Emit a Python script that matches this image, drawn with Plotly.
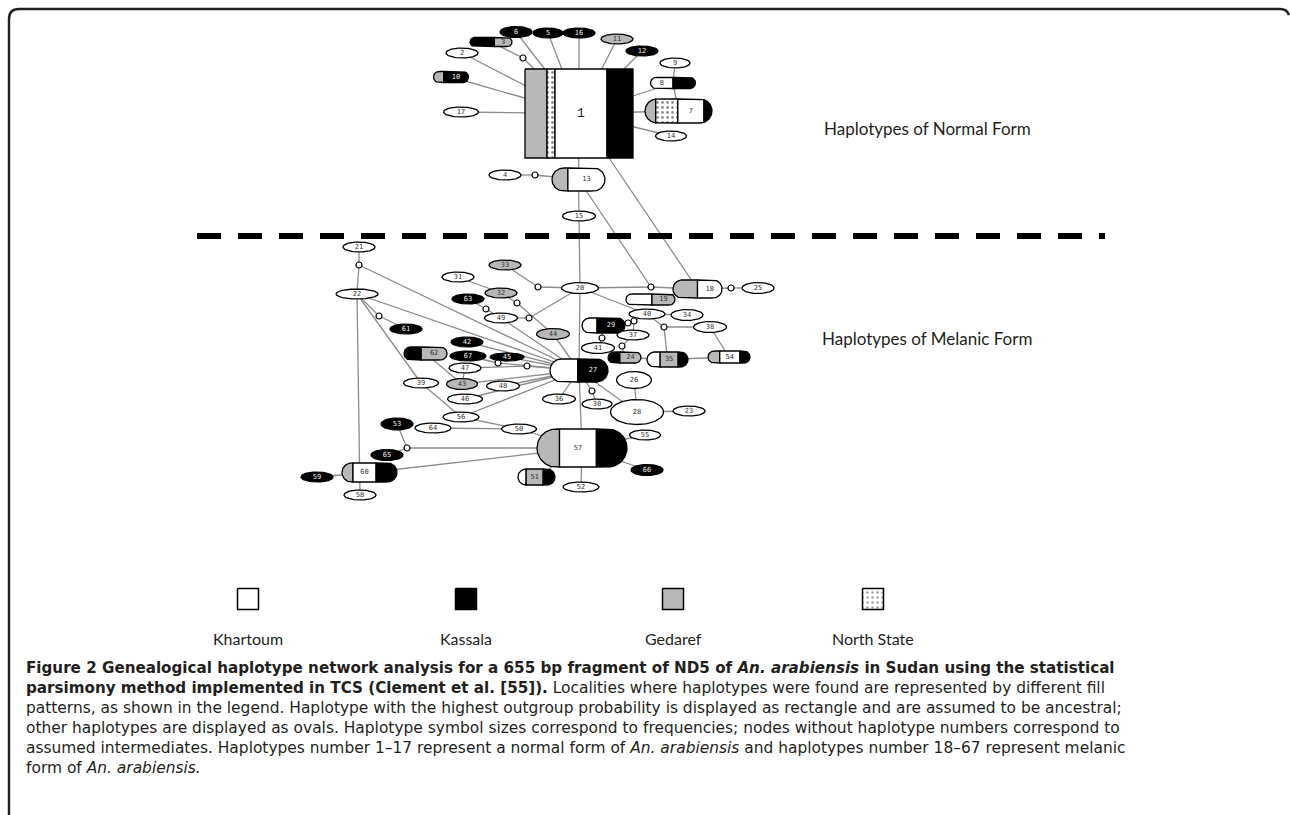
import numpy as np
import plotly.graph_objects as go

# ---------------- data ----------------
node_ids = ["1", "17", "10", "2", "3", "6", "5", "16", "11", "12", "9", "8", "7", "14", "13", "4", "15",
            "21", "22", "61", "31", "33", "32", "63", "49", "44", "42", "67", "45", "62", "47", "39", "43",
            "48", "46", "56", "64", "50", "53", "65", "60", "59", "58", "57", "55", "66", "51", "52", "36",
            "30", "26", "28", "23", "20", "18", "25", "19", "40", "34", "38", "29", "37", "41", "24", "35",
            "54", "27"]
# locality composition of each haplotype (W Khartoum, K Kassala, G Gedaref, D North State), percent
node_parts = ["G22 D8 W52 K26", "W", "G29 K71", "W", "K58 G42", "K", "K", "K", "G", "K", "W", "W50 K50",
              "G16 D33 W39 K12", "W", "G30 W70", "W", "W",
              "W", "W", "K", "W", "G", "G", "K", "W", "G", "K", "K", "K", "K40 G60", "W", "W", "G",
              "W", "W", "W", "W", "W", "K", "K", "G20 W42 K38", "K", "W", "G25 W41 K34", "W", "K",
              "W22 G46 K32", "W", "W", "W", "W", "W", "W", "W", "G50 W50", "W", "W53 G47", "W", "W", "W",
              "W35 K65", "W", "W", "K36 G64", "W32 G44 K24", "G28 W48 K24", "W48 K52"]
node_label_part = [2, 0, 1, 0, 1, 0, 0, 0, 0, 0, 0, 0, 2, 0, 1, 0, 0,
                   0, 0, 0, 0, 0, 0, 0, 0, 0, 0, 0, 0, 1, 0, 0, 0,
                   0, 0, 0, 0, 0, 0, 0, 1, 0, 0, 1, 0, 0, 1, 0, 0,
                   0, 0, 0, 0, 0, 1, 0, 1, 0, 0, 0, 1, 0, 0, 1, 1,
                   1, 1]

# network layout (diagram coordinates)
node_x = [579, 461, 451, 462, 491, 516, 548, 579, 617, 642, 675, 673, 678.5, 671, 578.5, 505, 579,
          359, 357, 406, 458, 505, 501, 468, 501, 553, 467, 468, 507, 425.5, 465, 421, 462,
          503, 465, 461, 433, 519, 397, 387, 369.5, 317, 360, 582, 645, 647, 536.5, 581, 559,
          597, 634, 637, 689, 580, 697.5, 758, 650.5, 647, 687, 710, 603.5, 633, 598, 624.5, 667.5,
          729, 579]
node_y = [113.5, 112, 77, 53, 42, 32, 33, 33, 39, 51, 63, 83, 111, 136, 179.5, 175, 216,
          247, 294, 329, 277, 265, 293, 299, 318, 334, 342, 356, 357, 353.5, 368, 383, 384,
          386, 399, 417, 428, 429, 424, 455, 472.5, 477, 495, 448, 435, 470, 477, 487, 399,
          404, 380, 412, 411, 288, 289, 288, 299.5, 314, 315, 327, 325.5, 335, 348, 357.5, 359.5,
          357, 370.5]
node_w = [108, 35, 35, 32, 42, 32, 30, 32, 32, 32, 30, 45, 67, 31, 53, 32, 33,
          32, 42, 32, 32, 32, 32, 32, 33, 33, 32, 36, 34, 43, 32, 35, 31,
          33, 35, 36, 36, 35, 32, 32, 55, 32, 32, 90, 31, 32, 37, 36, 33,
          30, 35, 53, 32, 37, 49, 32, 49, 36, 32, 33, 43, 32, 33, 33, 41,
          42, 58]
node_h = [89, 10, 11, 10, 9, 11, 10, 10, 10, 10, 10, 11, 24, 10, 23, 10, 10,
          10, 10, 10, 10, 10, 10, 10, 10, 11, 10, 10, 8, 13, 10, 10, 11,
          10, 10, 10, 10, 10, 12, 11, 19, 10, 10, 38, 10, 11, 16, 10, 10,
          10, 17, 25, 10, 11, 18, 11, 11, 10, 11, 11, 15, 10, 11, 11, 15,
          12, 23]
node_shape = ["rect"] + ["pill" if len(p.split()) > 1 else "oval" for p in node_parts[1:]]

# assumed intermediates (unlabelled nodes)
inter_ids = ["a", "b", "m1", "m2", "m3", "m4", "m5", "m6", "m7", "m8", "m9", "m10", "m11", "m12",
             "m13", "m14", "m15", "m16", "m17"]
inter_x = [523, 535, 359, 379, 538, 517, 486, 529, 498, 527, 407, 592, 651, 731, 664, 634, 628, 602, 622]
inter_y = [58, 175, 265, 316, 287, 303, 309, 318, 363, 366, 448, 391, 287, 288, 327, 321, 323, 338, 346]

edges = [("1", "17"), ("1", "10"), ("1", "2"), ("3", "a"), ("a", "1"), ("1", "6"), ("1", "5"),
         ("1", "16"), ("1", "11"), ("1", "12"), ("9", "8"), ("8", "1"), ("8", "7"), ("1", "7"),
         ("1", "14"), ("1", "13"), ("4", "b"), ("b", "13"), ("13", "15"), ("15", "20"), ("13", "m11"),
         ("1", "18"),
         ("21", "m1"), ("m1", "22"), ("22", "58"), ("m1", "27"), ("22", "27"), ("22", "m2"), ("m2", "61"),
         ("22", "39"), ("39", "56"), ("56", "50"), ("64", "50"), ("50", "57"), ("33", "m3"), ("m3", "20"),
         ("31", "32"), ("32", "m4"), ("m4", "44"), ("44", "27"), ("63", "m5"), ("m5", "49"), ("49", "m6"),
         ("m6", "20"), ("49", "27"), ("42", "27"), ("67", "m7"), ("m7", "27"), ("45", "27"), ("47", "m8"),
         ("m8", "27"), ("62", "43"), ("47", "43"), ("43", "27"), ("48", "27"), ("46", "27"), ("56", "27"),
         ("53", "m9"), ("m9", "65"), ("m9", "57"), ("60", "57"), ("59", "60"), ("57", "55"), ("57", "66"),
         ("57", "52"), ("51", "57"), ("20", "27"), ("27", "57"), ("27", "36"), ("27", "m10"), ("m10", "30"),
         ("27", "28"), ("26", "28"), ("28", "23"), ("20", "m11"), ("m11", "18"), ("18", "m12"),
         ("m12", "25"), ("19", "18"), ("20", "40"), ("40", "34"), ("40", "m13"), ("m13", "35"),
         ("m13", "38"), ("38", "54"), ("35", "54"), ("24", "35"), ("40", "m14"), ("m14", "m15"),
         ("m15", "29"), ("m14", "37"), ("29", "m16"), ("m16", "41"), ("37", "m17"), ("m17", "24")]

legend_names = ["Khartoum", "Kassala", "Gedaref", "North State"]
legend_codes = ["W", "K", "G", "D"]
legend_x = [248, 466, 673, 873]

section_titles = ["Haplotypes of Normal Form", "Haplotypes of Melanic Form"]

BOLD = '<span style="font-size:15.15px"><b>{}</b></span>'
NORM = '<span style="font-size:15.45px">{}</span>'
caption_lines = [
    BOLD.format("Figure 2 Genealogical haplotype network analysis for a 655 bp fragment of ND5 of <i>An. arabiensis</i> in Sudan using the statistical"),
    BOLD.format("parsimony method implemented in TCS (Clement et al. [55]).") + NORM.format(" Localities where haplotypes were found are represented by different fill"),
    NORM.format("patterns, as shown in the legend. Haplotype with the highest outgroup probability is displayed as rectangle and are assumed to be ancestral;"),
    NORM.format("other haplotypes are displayed as ovals. Haplotype symbol sizes correspond to frequencies; nodes without haplotype numbers correspond to"),
    NORM.format("assumed intermediates. Haplotypes number 1\u201317 represent a normal form of <i>An. arabiensis</i> and haplotypes number 18\u201367 represent melanic"),
    NORM.format("form of <i>An. arabiensis.</i>"),
]

# ---------------- styles ----------------
FILL = {"W": "#ffffff", "K": "#000000", "G": "#b8b8b8", "D": "#ffffff"}
EDGE_COLOR = "#8c8c8c"
TEXT_COLOR = "#231f20"
LEG_FONT = "Lato"
CAP_FONT = "DejaVu Sans"

W_PX, H_PX = 1290, 815


def half_height(shape, x, x0, x1, ry):
    if shape == "rect":
        return np.full_like(x, ry)
    if shape == "oval":
        cx, rx = (x0 + x1) / 2, (x1 - x0) / 2
        t = np.clip((x - cx) / rx, -1, 1)
        return ry * np.sqrt(1 - t * t)
    rx = min(ry, (x1 - x0) / 2)
    cl, cr = x0 + rx, x1 - rx
    hh = np.full_like(x, ry)
    m = x < cl
    t = np.clip((x[m] - cl) / rx, -1, 1)
    hh[m] = ry * np.sqrt(1 - t * t)
    m = x > cr
    t = np.clip((x[m] - cr) / rx, -1, 1)
    hh[m] = ry * np.sqrt(1 - t * t)
    return hh


def segments(cx, cy, w, h, shape, parts):
    items = []
    for p in parts.split():
        code = p[0]
        frac = float(p[1:]) / 100 if len(p) > 1 else 1.0
        items.append((code, frac))
    tot = sum(f for _, f in items)
    x0, x1 = cx - w / 2, cx + w / 2
    out = []
    a = x0
    u = np.linspace(0, 1, 41)
    for code, f in items:
        b = a + w * f / tot
        xs = a + (b - a) * (1 - np.cos(np.pi * u)) / 2
        hh = half_height(shape, xs, x0, x1, h / 2)
        px = np.concatenate([xs, xs[::-1], xs[:1]])
        py = np.concatenate([cy - hh, (cy + hh)[::-1], [cy - hh[0]]])
        out.append((code, px, py, (a + b) / 2))
        a = b
    return out


fig = go.Figure()

# edges
pos = {k: (x, y) for k, x, y in zip(node_ids, node_x, node_y)}
pos.update({k: (x, y) for k, x, y in zip(inter_ids, inter_x, inter_y)})
ex, ey = [], []
for s, t in edges:
    ex += [pos[s][0], pos[t][0], None]
    ey += [pos[s][1], pos[t][1], None]
fig.add_trace(go.Scatter(x=ex, y=ey, mode="lines", line=dict(color=EDGE_COLOR, width=1.3),
                         hoverinfo="skip"))

# dashed separator
fig.add_trace(go.Scatter(x=[197, 1105], y=[236, 236], mode="lines",
                         line=dict(color="black", width=6, dash="24px,17px"), hoverinfo="skip"))

# nodes
lab_x, lab_y, lab_t, lab_c = [], [], [], []
for i, nid in enumerate(node_ids):
    segs = segments(node_x[i], node_y[i], node_w[i], node_h[i], node_shape[i], node_parts[i])
    for code, px, py, mid in segs:
        kw = {}
        if code == "D":
            kw["fillpattern"] = dict(shape=".", bgcolor="white", fgcolor="#222", size=5, solidity=0.25)
        fig.add_trace(go.Scatter(x=px, y=py, mode="lines", fill="toself", fillcolor=FILL[code],
                                 line=dict(color="black", width=1.3), hoverinfo="skip", **kw))
    code, _, _, mid = segs[node_label_part[i]]
    if nid == "1":
        continue
    lab_x.append(mid)
    lab_y.append(node_y[i])
    lab_t.append(nid)
    lab_c.append("#f0f0f0" if code == "K" else "#333333")

# intermediates
fig.add_trace(go.Scatter(x=inter_x, y=inter_y, mode="markers",
                         marker=dict(symbol="circle", size=6, color="white",
                                     line=dict(color="black", width=1.2)), hoverinfo="skip"))

# node labels
fig.add_trace(go.Scatter(x=lab_x, y=lab_y, mode="text", text=lab_t,
                         textfont=dict(family="DejaVu Sans Mono", size=7, color=lab_c),
                         hoverinfo="skip"))
i1 = node_ids.index("1")
seg1 = segments(node_x[i1], node_y[i1], node_w[i1], node_h[i1], node_shape[i1], node_parts[i1])
fig.add_trace(go.Scatter(x=[seg1[node_label_part[i1]][3]], y=[node_y[i1]], mode="text", text=["1"],
                         textfont=dict(family="Liberation Mono", size=13, color="#222"),
                         hoverinfo="skip"))

# legend
for name, code, lx in zip(legend_names, legend_codes, legend_x):
    sq = segments(lx, 599, 21, 21, "rect", code)[0]
    kw = {}
    if code == "D":
        kw["fillpattern"] = dict(shape=".", bgcolor="white", fgcolor="#444", size=5, solidity=0.2)
    fig.add_trace(go.Scatter(x=sq[1], y=sq[2], mode="lines", fill="toself", fillcolor=FILL[code],
                             line=dict(color="black", width=1.5), hoverinfo="skip", **kw))
    fig.add_annotation(x=lx, y=638, text=name, showarrow=False, xanchor="center", yanchor="middle",
                       font=dict(family=LEG_FONT, size=16, color=TEXT_COLOR))

# section titles
for t, ty in zip(section_titles, [128, 338]):
    fig.add_annotation(x=927, y=ty, text=t, showarrow=False, xanchor="center", yanchor="middle",
                       font=dict(family=LEG_FONT, size=17, color=TEXT_COLOR))

# caption (one multi-line block; base size sets the 20 px line pitch)
fig.add_annotation(x=24, y=657, text="<br>".join(caption_lines), showarrow=False, xanchor="left",
                   yanchor="top", align="left",
                   font=dict(family=CAP_FONT, size=15.4, color=TEXT_COLOR))

# frame
fig.add_shape(type="path", xref="x", yref="y",
              path="M 9,815 L 9,19 Q 9,9 19,9 L 1280,9 Q 1287,9 1289,15",
              line=dict(color="#231f20", width=2.4))

fig.update_layout(width=W_PX, height=H_PX, margin=dict(l=0, r=0, t=0, b=0),
                  paper_bgcolor="white", plot_bgcolor="white", showlegend=False,
                  xaxis=dict(range=[0, W_PX], visible=False, fixedrange=True),
                  yaxis=dict(range=[H_PX, 0], visible=False, fixedrange=True))

fig.write_html("out.html", config={"displayModeBar": False},
               post_script="document.body.style.margin='0';")
